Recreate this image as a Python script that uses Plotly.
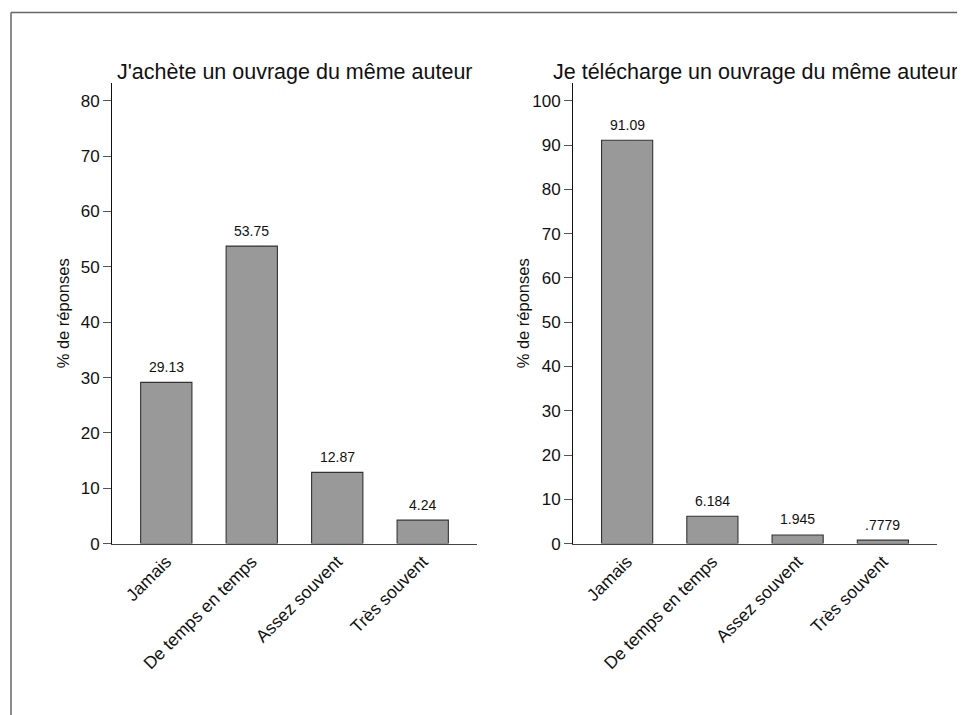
import plotly.graph_objects as go

categories = ["Jamais", "De temps en temps", "Assez souvent", "Très souvent"]
achete_values = [29.13, 53.75, 12.87, 4.24]
telecharge_values = [91.09, 6.184, 1.945, 0.7779]
titles = ["J'achète un ouvrage du même auteur", "Je télécharge un ouvrage du même auteur"]
y_title = "% de réponses"
left_ticks = [0, 10, 20, 30, 40, 50, 60, 70, 80]
right_ticks = [0, 10, 20, 30, 40, 50, 60, 70, 80, 90, 100]

# page body has an 8px margin: the figure starts at (8, 8) in the window
OFF = 8
SY = 0.985  # observed vertical scale of the capture
W, H = 965 - OFF, 720
FONT = "Liberation Sans, Arial, sans-serif"


def fmt(v):
    s = f"{v:.4g}"
    if s.startswith("0."):
        s = s[1:]
    return s


def px_x(p):
    return (p - OFF) / W


def px_y(p):
    return 1 - ((p - OFF) / SY) / H


fig = go.Figure()
panels = [
    ("x", "y", achete_values, [px_x(112), px_x(477)], [0, 83.2], left_ticks, titles[0]),
    ("x2", "y2", telecharge_values, [px_x(573), px_x(937)], [0, 104.0], right_ticks, titles[1]),
]

annotations = []
for i, (xa, ya, vals, dom, yr, ticks, title) in enumerate(panels):
    fig.add_trace(go.Bar(
        x=list(range(len(categories))), y=vals, xaxis=xa, yaxis=ya,
        width=0.6, marker=dict(color="#999999", line=dict(color="#333333", width=1.1)),
        showlegend=False, hoverinfo="skip",
    ))
    for j, v in enumerate(vals):
        annotations.append(dict(
            x=j, y=v, xref=xa, yref=ya, text=fmt(v), showarrow=False,
            yanchor="middle", yshift=15.5, font=dict(family=FONT, size=14, color="#111"),
        ))
    suffix = "" if i == 0 else "2"
    fig.layout["xaxis" + suffix] = dict(
        domain=dom, anchor=ya, range=[-0.635, 3.635],
        tickmode="array", tickvals=list(range(len(categories))), ticktext=categories,
        tickangle=-45, ticks="", showline=True, linecolor="#444", linewidth=1,
        showgrid=False, zeroline=False, tickfont=dict(family=FONT, size=17.5, color="#111"),
        fixedrange=True,
    )
    fig.layout["yaxis" + suffix] = dict(
        domain=[px_y(543), px_y(83)], anchor=xa, range=yr,
        tickmode="array", tickvals=ticks, ticks="outside", ticklen=8, tickcolor="#555",
        tickwidth=1, showline=True, linecolor="#111", linewidth=1,
        showgrid=False, zeroline=False, tickfont=dict(family=FONT, size=17, color="#111"),
        fixedrange=True,
    )
    cx = (dom[0] + dom[1]) / 2
    annotations.append(dict(
        x=cx, y=px_y(72), xref="paper", yref="paper", text=title, showarrow=False,
        xanchor="center", yanchor="middle", font=dict(family=FONT, size=21.5, color="#111"),
    ))
    annotations.append(dict(
        x=px_x(63 if i == 0 else 523), y=px_y(313), xref="paper", yref="paper",
        text=y_title, showarrow=False, textangle=-90, xanchor="center", yanchor="middle",
        font=dict(family=FONT, size=16.5, color="#111"),
    ))

shapes = [
    dict(type="line", xref="paper", yref="paper", x0=px_x(11), x1=1.0, y0=px_y(12.5), y1=px_y(12.5),
         line=dict(color="#666", width=1.5)),
    dict(type="line", xref="paper", yref="paper", x0=px_x(11), x1=px_x(11), y0=px_y(12.5), y1=0,
         line=dict(color="#666", width=1.5)),
]

fig.update_layout(
    width=W, height=H, margin=dict(l=0, r=0, t=0, b=0),
    paper_bgcolor="white", plot_bgcolor="white",
    annotations=annotations, shapes=shapes, bargap=0.4,
    font=dict(family=FONT),
)

fig.write_html("out.html", config={"displayModeBar": False})
